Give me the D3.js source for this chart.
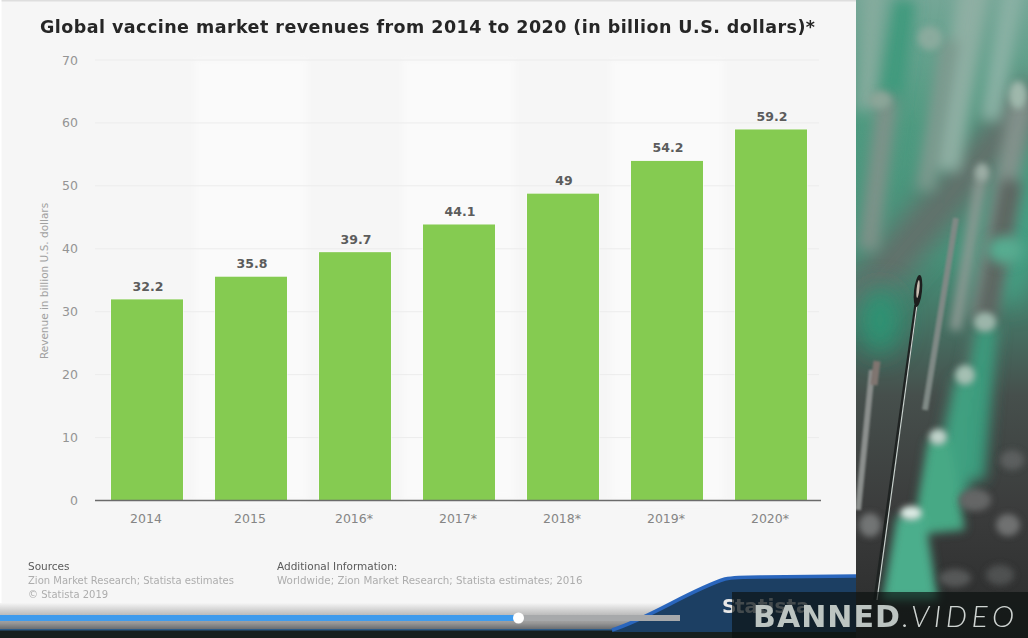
<!DOCTYPE html>
<html>
<head>
<meta charset="utf-8">
<script src="https://cdn.jsdelivr.net/npm/d3@7"></script>
<style>
  html, body { margin: 0; padding: 0; background: #222; overflow: hidden; }
  svg { display: block; font-family: "DejaVu Sans", sans-serif; }
</style>
</head>
<body>
<div id="chart"></div>
<script>
const years = ['2014', '2015', '2016*', '2017*', '2018*', '2019*', '2020*'];
const revenue = [32.2, 35.8, 39.7, 44.1, 49, 54.2, 59.2];
const yTicks = [0, 10, 20, 30, 40, 50, 60, 70];

const titleText = 'Global vaccine market revenues from 2014 to 2020 (in billion U.S. dollars)*';
const yAxisLabel = 'Revenue in billion U.S. dollars';
const sourceLines = ['Zion Market Research; Statista estimates', '\u00a9 Statista 2019'];
const infoLines = ['Worldwide; Zion Market Research; Statista estimates; 2016'];

const width = 1028, height = 638;

const svg = d3.select('#chart').append('svg')
  .attr('width', width)
  .attr('height', height);

const defs = svg.append('defs');
// user space region, a bounding box filter clips near vertical lines
[['blur1', 0.8], ['blur3', 3], ['blur6', 6], ['blur12', 12]].forEach(([id, s]) => {
  defs.append('filter').attr('id', id)
    .attr('filterUnits', 'userSpaceOnUse')
    .attr('x', 0).attr('y', -50).attr('width', 1100).attr('height', 750)
    .append('feGaussianBlur').attr('stdDeviation', s);
});
defs.append('clipPath').attr('id', 'photoClip')
  .append('rect').attr('x', 856).attr('y', 0).attr('width', 172).attr('height', 638);

// video backdrop: blurred needles on the right of the frame
const photo = svg.append('g').attr('clip-path', 'url(#photoClip)');
const photoBg = defs.append('linearGradient').attr('id', 'photoBg')
  .attr('x1', 0).attr('y1', 0).attr('x2', 0).attr('y2', 1);
[[0, '#74a696'], [0.2, '#4e9a80'], [0.4, '#46937a'], [0.62, '#464f4c'], [0.8, '#3b3c3c'], [1, '#2a2b2b']]
  .forEach(([o, c]) => photoBg.append('stop').attr('offset', o).attr('stop-color', c));
photo.append('rect').attr('x', 856).attr('y', 0).attr('width', 172).attr('height', 638)
  .attr('fill', 'url(#photoBg)');

const soft = photo.append('g').attr('filter', 'url(#blur3)');

// [x1, y1, x2, y2, width, colour, filter]
const streaks = [
  [1040, 90, 850, 310, 42, '#62706b', 'blur12'],
  [1030, 180, 1000, 300, 40, '#44a084', 'blur12'],
  [875, -20, 866, 110, 20, '#85ab9d', 'blur6'],
  [905, 0, 890, 110, 22, '#3f9a7d', 'blur6'],
  [975, -20, 945, 170, 30, '#8eafa3', 'blur6'],
  [1015, -20, 990, 120, 20, '#8ab1a4', 'blur6'],
  [888, 95, 868, 250, 20, '#7f9289', 'blur6'],
  [950, 40, 925, 190, 18, '#7d998e', 'blur6'],
  [1022, 100, 980, 320, 22, '#84938d', 'blur6'],
  [1012, 180, 970, 400, 22, '#5c6561', 'blur6'],
  [982, 172, 955, 330, 11, '#8b9993', 'blur3']
];
soft.selectAll('line.streak').data(streaks).join('line')
  .attr('class', 'streak')
  .attr('x1', d => d[0]).attr('y1', d => d[1])
  .attr('x2', d => d[2]).attr('y2', d => d[3])
  .attr('stroke-width', d => d[4])
  .attr('stroke', d => d[5])
  .attr('filter', d => `url(#${d[6]})`);

// green syringe hubs widening downwards
const cones = [
  'M 976 325 L 998 325 L 985 480 L 950 480 Z',
  'M 955 378 L 977 378 L 968 500 L 928 500 Z',
  'M 928 440 L 950 440 L 965 530 L 912 535 Z',
  'M 897 516 L 925 516 L 938 600 L 882 600 Z'
];
soft.selectAll('path.cone').data(cones).join('path')
  .attr('class', 'cone')
  .attr('d', d => d)
  .attr('fill', (d, i) => ['#3a9a7c', '#41a181', '#46a985', '#4bae8c'][i])
  .attr('filter', (d, i) => i < 2 ? 'url(#blur6)' : 'url(#blur3)');

// out of focus blobs, [cx, cy, rx, ry, colour, filter]
const blobs = [
  [985, 322, 11, 10, '#9cb6aa', 'blur3'],
  [965, 375, 10, 10, '#a5c0b3', 'blur3'],
  [938, 437, 9, 8, '#c0d3ca', 'blur3'],
  [911, 513, 11, 7, '#dcebe4', 'blur3'],
  [870, 525, 11, 12, '#727474', 'blur3'],
  [1008, 525, 12, 11, '#6f7171', 'blur3'],
  [975, 500, 16, 11, '#656666', 'blur3'],
  [1012, 460, 12, 10, '#5c5e5e', 'blur3'],
  [955, 578, 16, 9, '#575858', 'blur3'],
  [1000, 575, 14, 10, '#505151', 'blur3'],
  [880, 100, 11, 9, '#8ba598', 'blur3'],
  [1018, 95, 9, 14, '#9fb8ac', 'blur3'],
  [982, 172, 7, 9, '#9cada5', 'blur3'],
  [1005, 250, 18, 14, '#56ac90', 'blur6'],
  [930, 38, 12, 12, '#8aaa9d', 'blur3'],
  [880, 320, 22, 34, '#2f9373', 'blur12']
];
photo.selectAll('ellipse.blob').data(blobs).join('ellipse')
  .attr('class', 'blob')
  .attr('cx', d => d[0]).attr('cy', d => d[1])
  .attr('rx', d => d[2]).attr('ry', d => d[3])
  .attr('fill', d => d[4])
  .attr('filter', d => `url(#${d[5]})`);

// thinner needles behind the sharp one
photo.append('line').attr('x1', 956).attr('y1', 218).attr('x2', 925).attr('y2', 410)
  .attr('stroke', '#7f8985').attr('stroke-width', 6).attr('filter', 'url(#blur1)');
photo.append('line').attr('x1', 872).attr('y1', 370).attr('x2', 858).attr('y2', 510)
  .attr('stroke', '#8b8f8d').attr('stroke-width', 6).attr('filter', 'url(#blur1)');

// the sharp needle
photo.append('line').attr('x1', 916).attr('y1', 305).attr('x2', 875).attr('y2', 600)
  .attr('stroke', '#1f2322').attr('stroke-width', 3.5);
photo.append('line').attr('x1', 917).attr('y1', 305).attr('x2', 877).attr('y2', 600)
  .attr('stroke', '#c9d2ce').attr('stroke-width', 1.2);
photo.append('ellipse').attr('cx', 918).attr('cy', 291).attr('rx', 4).attr('ry', 16)
  .attr('transform', 'rotate(6 918 291)').attr('fill', '#1d1f1e');
photo.append('ellipse').attr('cx', 918).attr('cy', 289).attr('rx', 1.4).attr('ry', 9)
  .attr('transform', 'rotate(6 918 289)').attr('fill', '#c9beb2');
photo.append('line').attr('x1', 877).attr('y1', 361).attr('x2', 874).attr('y2', 385)
  .attr('stroke', '#7f7470').attr('stroke-width', 7).attr('filter', 'url(#blur1)');

// chart card
svg.append('rect').attr('x', 0).attr('y', 0).attr('width', 856).attr('height', 612).attr('fill', '#f6f6f6');
svg.append('rect').attr('x', 0).attr('y', 0).attr('width', 856).attr('height', 1.5).attr('fill', '#dedede');
svg.append('rect').attr('x', 0).attr('y', 0).attr('width', 1.5).attr('height', 612).attr('fill', '#fff');

const margin = { top: 60, right: 207, bottom: 137.5, left: 95 };

const y = d3.scaleLinear()
  .domain([0, 70])
  .range([height - margin.bottom, margin.top]);

const x = d3.scaleBand()
  .domain(years)
  .range([margin.left, margin.left + 728])
  .paddingInner(32 / 104)
  .paddingOuter(16 / 104);

// faint lighter columns the video compression left behind the plot
svg.append('g').selectAll('rect').data(years.filter((d, i) => i % 2 === 1)).join('rect')
  .attr('x', d => x(d) - 20)
  .attr('y', y(70))
  .attr('width', x.bandwidth() + 40)
  .attr('height', y(0) - y(70))
  .attr('fill', '#fafafa')
  .attr('filter', 'url(#blur3)');

// gridlines
svg.append('g').selectAll('line').data(yTicks.slice(1)).join('line')
  .attr('x1', margin.left).attr('x2', 819)
  .attr('y1', d => y(d)).attr('y2', d => y(d))
  .attr('stroke', '#ececec').attr('stroke-width', 1);

// bars sit a touch under the printed value in the source, hence the inset
const barInset = 1.5;
svg.append('g').selectAll('rect').data(revenue).join('rect')
  .attr('x', (d, i) => x(years[i]))
  .attr('y', d => y(d) + barInset)
  .attr('width', x.bandwidth())
  .attr('height', d => y(0) - y(d) - barInset)
  .attr('fill', '#85cb51')
  .attr('stroke', '#fbfbfb')
  .attr('stroke-width', 1.2)
  .attr('paint-order', 'stroke');

// baseline
svg.append('line')
  .attr('x1', margin.left).attr('x2', 821)
  .attr('y1', y(0)).attr('y2', y(0))
  .attr('stroke', '#6b6b6b').attr('stroke-width', 1.5);

// value labels
svg.append('g').selectAll('text').data(revenue).join('text')
  .attr('x', (d, i) => x(years[i]) + x.bandwidth() / 2 + 1)
  .attr('y', d => y(d) - 7)
  .attr('text-anchor', 'middle')
  .attr('font-size', 12.5)
  .attr('font-weight', 'bold')
  .attr('fill', '#5c5c5c')
  .text(d => d);

// y tick labels
svg.append('g').selectAll('text').data(yTicks).join('text')
  .attr('x', 78)
  .attr('y', d => y(d) + 4.5)
  .attr('text-anchor', 'end')
  .attr('font-size', 12.5)
  .attr('fill', '#949494')
  .text(d => d);

// x tick labels
svg.append('g').selectAll('text').data(years).join('text')
  .attr('x', d => x(d) + x.bandwidth() / 2 - 1)
  .attr('y', 523)
  .attr('text-anchor', 'middle')
  .attr('font-size', 12.5)
  .attr('fill', '#858585')
  .text(d => d);

// y axis title
svg.append('text')
  .attr('transform', 'translate(48,281) rotate(-90)')
  .attr('text-anchor', 'middle')
  .attr('font-size', 10.5)
  .attr('fill', '#a0a0a0')
  .text(yAxisLabel);

// title
svg.append('text')
  .attr('x', 40).attr('y', 33)
  .attr('font-size', 17.5)
  .attr('font-weight', 'bold')
  .attr('fill', '#262626')
  .attr('textLength', 775)
  .text(titleText);

// footer
svg.append('text').attr('x', 28).attr('y', 570)
  .attr('font-size', 10.5).attr('fill', '#5a5a5a').text('Sources');
svg.append('g').selectAll('text').data(sourceLines).join('text')
  .attr('x', 28).attr('y', (d, i) => 584 + i * 13.5)
  .attr('font-size', 10).attr('fill', '#adadad').text(d => d);
svg.append('text').attr('x', 277).attr('y', 570)
  .attr('font-size', 10.5).attr('fill', '#5a5a5a').text('Additional Information:');
svg.append('g').selectAll('text').data(infoLines).join('text')
  .attr('x', 277).attr('y', 584)
  .attr('font-size', 10.3).attr('fill', '#adadad').text(d => d);

// video player strip along the bottom
const strip = defs.append('linearGradient').attr('id', 'strip')
  .attr('x1', 0).attr('y1', 0).attr('x2', 0).attr('y2', 1);
[[0, '#f5f5f5'], [0.3, '#cdcdcd'], [0.75, '#969696'], [1, '#62666a']]
  .forEach(([o, c]) => strip.append('stop').attr('offset', o).attr('stop-color', c));
svg.append('rect').attr('x', 0).attr('y', 603).attr('width', 720).attr('height', 27).attr('fill', 'url(#strip)');
svg.append('rect').attr('x', 0).attr('y', 630).attr('width', 856).attr('height', 8).attr('fill', '#17201e');
svg.append('rect').attr('x', 0).attr('y', 629).attr('width', 700).attr('height', 1.5).attr('fill', '#2c5a86');

// statista swoosh in the corner of the card
svg.append('path')
  .attr('d', 'M 612 630 C 650 618, 690 590, 725 579 C 735 577, 745 577, 760 577 L 856 576 L 856 632 L 612 632 Z')
  .attr('fill', '#1c3f63');
svg.append('path')
  .attr('d', 'M 612 630 C 650 618, 690 590, 725 579 C 735 577, 745 577, 760 577 L 856 576')
  .attr('fill', 'none').attr('stroke', '#2a66bd').attr('stroke-width', 3.5);

svg.append('text').attr('x', 722).attr('y', 613)
  .attr('font-size', 20).attr('font-weight', 'bold').attr('fill', '#e8e8e8').text('S');
svg.append('text').attr('x', 735).attr('y', 613)
  .attr('font-size', 20).attr('font-weight', 'bold').attr('fill', '#b9c2cc').text('tatista');

svg.append('rect').attr('x', 0).attr('y', 615).attr('width', 680).attr('height', 6).attr('fill', '#a7a9ab');
svg.append('rect').attr('x', 0).attr('y', 615).attr('width', 518).attr('height', 6).attr('fill', '#3f9bec');
svg.append('circle').attr('cx', 518.5).attr('cy', 618).attr('r', 5.5).attr('fill', '#fff');

// banned.video watermark
svg.append('rect').attr('x', 732).attr('y', 592).attr('width', 296).attr('height', 46)
  .attr('fill', '#0c1110').attr('fill-opacity', 0.68);
svg.append('text').attr('x', 753).attr('y', 627)
  .attr('font-size', 30).attr('font-weight', 'bold').attr('fill', '#bcc4c1')
  .attr('textLength', 147).text('BANNED');
svg.append('text').attr('x', 902).attr('y', 627)
  .attr('font-family', 'Lato, sans-serif')
  .attr('font-size', 30).attr('font-style', 'italic').attr('font-weight', 300).attr('fill', '#cfd4d2')
  .attr('textLength', 112).text('.VIDEO');
</script>
</body>
</html>
